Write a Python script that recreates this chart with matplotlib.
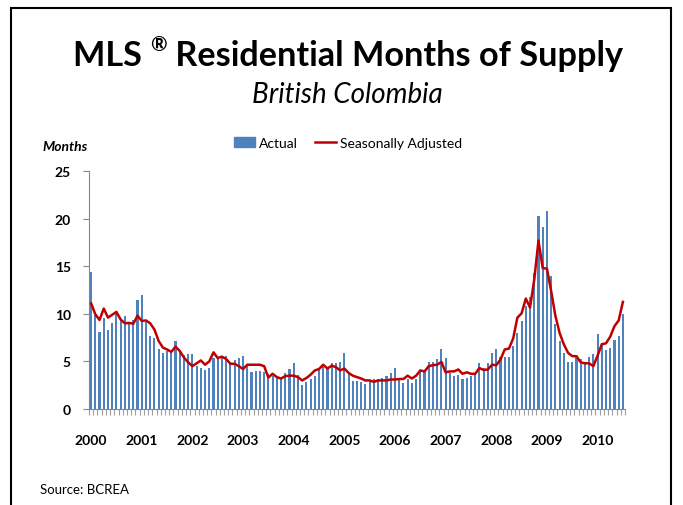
import matplotlib
matplotlib.use("Agg")
import matplotlib.pyplot as plt
import numpy as np
from matplotlib.patches import Rectangle
from matplotlib.lines import Line2D

plt.rcParams['font.family'] = ['Lato', 'DejaVu Sans']

# ---- data: monthly, Jan 2000 - Jul 2010 ----
years = [str(y) for y in range(2000, 2011)]

actual = [
    14.4, 9.9, 8.1, 9.6, 8.3, 9.0, 10.0, 9.3, 9.8, 9.1, 9.3, 11.5,   # 2000
    12.0, 9.1, 7.7, 7.5, 6.3, 5.9, 6.1, 5.9, 7.1, 6.1, 5.7, 5.8,     # 2001
    5.8, 4.5, 4.3, 4.1, 4.3, 5.4, 5.2, 5.6, 5.6, 4.9, 5.1, 5.4,      # 2002
    5.6, 4.5, 3.9, 4.0, 4.0, 3.9, 3.7, 3.5, 3.5, 3.2, 3.8, 4.2,      # 2003
    4.8, 3.6, 2.5, 2.8, 3.1, 3.5, 4.2, 4.4, 4.3, 4.8, 4.8, 4.9,      # 2004
    5.9, 3.8, 2.9, 2.9, 2.8, 2.6, 2.9, 3.1, 3.2, 3.3, 3.5, 3.8,      # 2005
    4.3, 3.1, 2.7, 3.1, 2.7, 3.1, 4.0, 4.0, 4.9, 4.9, 5.3, 6.3,      # 2006
    5.4, 3.8, 3.5, 3.6, 3.1, 3.3, 3.5, 3.7, 4.8, 4.3, 4.8, 5.9,      # 2007
    6.3, 5.5, 5.5, 5.5, 6.6, 8.0, 9.2, 10.8, 11.8, 14.3, 20.3, 19.1, # 2008
    20.8, 14.0, 8.9, 7.1, 5.9, 4.9, 4.9, 5.6, 5.3, 4.9, 5.5, 5.8,    # 2009
    7.9, 6.9, 6.2, 6.4, 7.3, 7.7, 10.0,                              # 2010
]

seasonal = [
    11.1, 9.95, 9.35, 10.55, 9.6, 9.9, 10.2, 9.4, 9.0, 9.05, 8.95, 9.8,
    9.25, 9.3, 9.0, 8.35, 7.15, 6.45, 6.25, 6.0, 6.55, 6.1, 5.4, 4.9,
    4.5, 4.8, 5.1, 4.65, 5.0, 5.95, 5.35, 5.5, 5.25, 4.75, 4.75, 4.5,
    4.2, 4.65, 4.65, 4.65, 4.65, 4.5, 3.3, 3.7, 3.35, 3.2, 3.45, 3.5,
    3.5, 3.35, 3.0, 3.25, 3.6, 4.05, 4.2, 4.65, 4.25, 4.55, 4.4, 4.05,
    4.25, 3.8, 3.5, 3.35, 3.2, 3.0, 3.0, 2.85, 3.0, 3.0, 3.0, 3.1,
    3.1, 3.15, 3.15, 3.5, 3.2, 3.5, 4.05, 3.95, 4.5, 4.6, 4.65, 4.95,
    3.85, 3.95, 3.95, 4.15, 3.7, 3.85, 3.7, 3.7, 4.3, 4.1, 4.15, 4.65,
    4.6, 5.2, 6.25, 6.35, 7.4, 9.6, 10.05, 11.6, 10.65, 13.6, 17.7, 14.8,
    14.75, 12.4, 9.8, 8.0, 6.8, 5.9, 5.55, 5.55, 4.9, 4.8, 4.8, 4.5,
    5.6, 6.8, 6.9, 7.6, 8.7, 9.3, 11.25,
]

n = len(actual)
x = np.arange(n)

fig = plt.figure(figsize=(6.83, 5.06), dpi=100)
ax = fig.add_axes([89 / 683, 1 - 410 / 506, 536 / 683, 238 / 506])

ax.bar(x, actual, width=0.5, color='#4F81BD', label='Actual', zorder=2)
ax.plot(x, seasonal, color='#C00000', linewidth=1.8, label='Seasonally Adjusted', zorder=3)

ax.set_xlim(-0.5, n - 0.5)
ax.set_ylim(0, 25)
ax.set_yticks(range(0, 26, 5))
ax.set_yticklabels([str(v) for v in range(0, 26, 5)], fontweight='bold', fontsize=10)
ax.tick_params(axis='y', length=4, color='#868686', pad=9)

ax.set_xticks(np.arange(0, n, 12))
ax.set_xticklabels(years, fontweight='bold', fontsize=10)
ax.set_xticks(np.arange(-0.5, n, 1), minor=True)
ax.tick_params(axis='x', which='major', length=0, pad=18)
ax.tick_params(axis='x', which='minor', length=4, color='#A0A0A0', width=0.8)

for side in ['top', 'right']:
    ax.spines[side].set_visible(False)
ax.spines['left'].set_color('#868686')
ax.spines['bottom'].set_color('#868686')

handles = [Rectangle((0, 0), 1, 1, color='#4F81BD'),
           Line2D([0], [0], color='#C00000', linewidth=1.8)]
fig.legend(handles, ['Actual', 'Seasonally Adjusted'], loc='center',
           bbox_to_anchor=(348 / 683, 1 - 144 / 506), ncol=2, frameon=False,
           fontsize=10, handlelength=1.5, handletextpad=0.3, columnspacing=1.2)

# title with a small raised ® sign
renderer = fig.canvas.get_renderer()
title_y = 1 - 56 / 506
parts = [('MLS ', 24.7, 0.0), ('®', 14.5, 0.022), (' Residential Months of Supply', 24.7, 0.0)]
objs = []
total = 0
for txt, size, dy in parts:
    t = fig.text(0, title_y + dy, txt, ha='left', va='center', fontsize=size, fontweight='bold')
    w = t.get_window_extent(renderer).width
    objs.append((t, w))
    total += w
start = 348 - total / 2
for t, w in objs:
    t.set_x(start / 683)
    start += w

fig.text(347 / 683, 1 - 95 / 506, 'British Colombia', ha='center', va='center',
         fontsize=20, style='italic')
fig.text(42 / 683, 1 - 147 / 506, 'Months', ha='left', va='center',
         fontsize=10, fontweight='bold', style='italic')
fig.text(40 / 683, 1 - 490 / 506, 'Source: BCREA', ha='left', va='center', fontsize=9.5)

fig.patches.append(Rectangle((11 / 683, -0.05), 660 / 683, 1.05 - 9 / 506,
                             transform=fig.transFigure, fill=False,
                             edgecolor='black', linewidth=1.5))

fig.savefig('out.png', dpi=100)
